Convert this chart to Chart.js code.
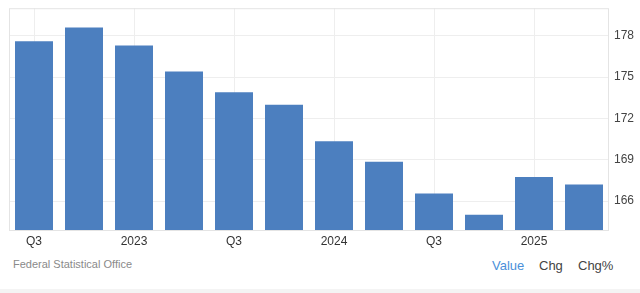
<!DOCTYPE html>
<html>
<head>
<meta charset="utf-8">
<script src="https://cdn.jsdelivr.net/npm/chart.js@4"></script>
<style>
    body { margin: 0; background: #fff; font-family: "Liberation Sans", Arial, sans-serif; }
    #wrap { position: relative; width: 640px; height: 293px; overflow: hidden; }
    #chart-box { position: absolute; left: 0; top: -4px; width: 640px; height: 254px; }
    #source { position: absolute; left: 13px; top: 258px; font-size: 11px; color: #8a8a8a; }
    #tabs { position: absolute; top: 258px; left: 492px; font-size: 13px; color: #444; }
    #tabs span { position: absolute; white-space: nowrap; }
    #bottom-band { position: absolute; left: 0; top: 289px; width: 640px; height: 4px; background: #f4f4f4; }
</style>
</head>
<body>
<div id="wrap">
    <div id="chart-box"><canvas id="bars"></canvas></div>
    <div id="source">Federal Statistical Office</div>
    <div id="tabs">
        <span style="left:0; color:#4a90d9;">Value</span>
        <span style="left:47px;">Chg</span>
        <span style="left:86px;">Chg%</span>
    </div>
    <div id="bottom-band"></div>
</div>
<script>
// quarters, Q3 2022 .. Q2 2025
const quarters = ["Q3", "Q4", "2023", "Q2", "Q3", "Q4", "2024", "Q2", "Q3", "Q4", "2025", "Q2"];
const shownLabels = ["Q3", "", "2023", "", "Q3", "", "2024", "", "Q3", "", "2025", ""];
const values = [177.6, 178.6, 177.3, 175.4, 173.9, 173.0, 170.35, 168.85, 166.55, 165.0, 167.75, 167.2];
const yTicks = [166, 169, 172, 175, 178];

const gridColor = "#eeeeee";
const frameColor = "#e4e4e4";

// thin frame round the plot area
const framePlugin = {
    id: "frame",
    beforeDatasetsDraw(chart) {
        const a = chart.chartArea;
        const ctx = chart.ctx;
        ctx.save();
        ctx.strokeStyle = frameColor;
        ctx.lineWidth = 1;
        ctx.strokeRect(a.left + 0.5, a.top + 0.5, a.right - a.left - 1, a.bottom - a.top);
        ctx.restore();
    }
};

new Chart(document.getElementById("bars"), {
    type: "bar",
    data: {
        labels: quarters,
        datasets: [{
            data: values,
            backgroundColor: "#4c7fbf",
            borderWidth: 0,
            categoryPercentage: 1,
            barPercentage: 0.76
        }]
    },
    options: {
        responsive: true,
        maintainAspectRatio: false,
        animation: false,
        layout: { padding: { left: 9, top: 3, right: 0, bottom: 0 } },
        plugins: { legend: { display: false }, tooltip: { enabled: false } },
        scales: {
            x: {
                offset: true,
                grid: {
                    offset: false,
                    drawTicks: false,
                    color: (c) => (shownLabels[c.index] ? gridColor : "rgba(0,0,0,0)")
                },
                border: { display: false },
                ticks: {
                    padding: 4,
                    autoSkip: false,
                    maxRotation: 0,
                    color: "#333",
                    font: { family: "Liberation Sans", size: 12 },
                    callback: (v, i) => shownLabels[i]
                },
                afterFit: (s) => { s.height = 20; }
            },
            y: {
                position: "right",
                min: 163.9,
                max: 180,
                afterBuildTicks: (s) => { s.ticks = yTicks.map(v => ({ value: v })); },
                grid: { color: gridColor, drawTicks: false },
                border: { display: false },
                ticks: {
                    padding: 5,
                    color: "#444",
                    font: { family: "Liberation Sans", size: 12 }
                },
                afterFit: (s) => { s.width = 31; }
            }
        }
    },
    plugins: [framePlugin]
});
</script>
</body>
</html>
